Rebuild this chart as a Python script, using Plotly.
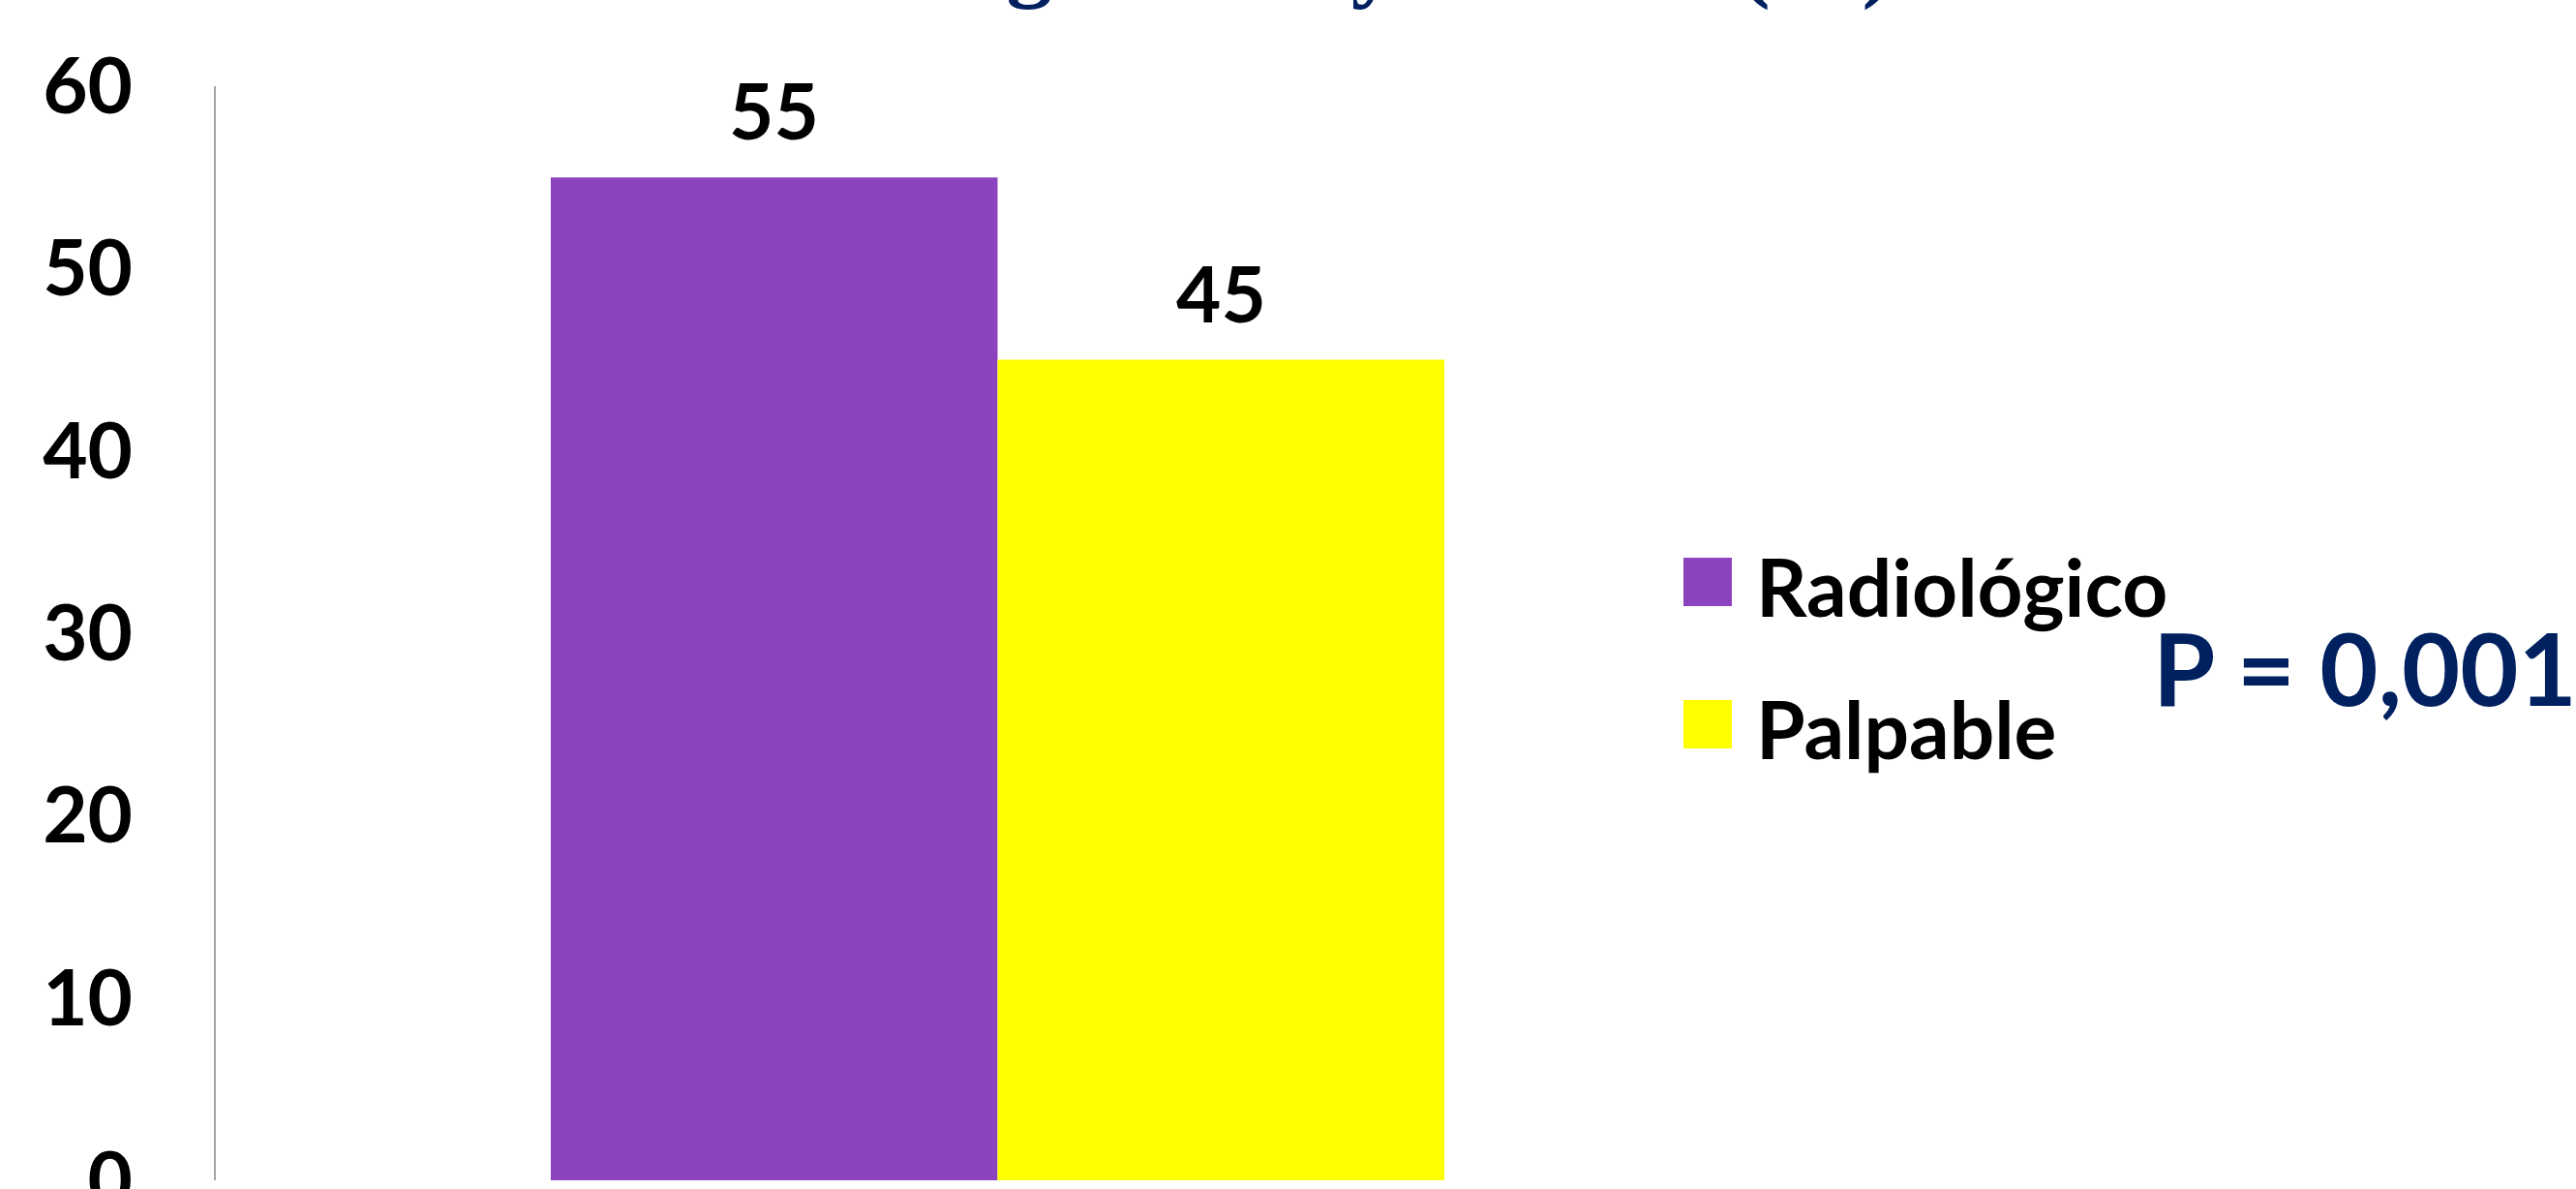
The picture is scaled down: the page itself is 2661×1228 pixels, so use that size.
import plotly.graph_objects as go

# ---- data ----
categories = ["Diagnóstico"]
series_names = ["Radiológico", "Palpable"]
radiologico = [55]
palpable = [45]
series_colors = ["#8B43BE", "#FFFF00"]
y_ticks = [0, 10, 20, 30, 40, 50, 60]
title_text = "Forma de diagnóstico y tamaño (%)"
p_text = "P = 0,001"

W, H = 2661, 1228
L, R, T, B = 223, 823, 89, 9
PW, PH = W - L - R, H - T - B

FONT = "Lato"
bar_w = 0.2858

fig = go.Figure()
values = [radiologico, palpable]
offsets = [-bar_w, 0.0]
for name, vals, col, off in zip(series_names, values, series_colors, offsets):
    fig.add_trace(go.Bar(
        x=categories, y=vals, name=name,
        marker=dict(color=col, line=dict(width=0)),
        width=bar_w, offset=off, showlegend=False,
    ))
    for v in vals:
        fig.add_annotation(x=off + bar_w / 2, y=v, xref="x", yref="y",
                           text=str(v), showarrow=False,
                           yanchor="bottom", yshift=20,
                           font=dict(family=FONT, size=80, color="black", weight="bold"))

# legend drawn manually (large squares)
def px_to_paper_x(px):
    return (px - L) / PW

def px_to_paper_y(py):
    return 1 - (py - T) / PH

leg_rows = [(576, 626), (723, 773)]
for (y0, y1), name, col in zip(leg_rows, series_names, series_colors):
    fig.add_shape(type="rect", xref="paper", yref="paper",
                  x0=px_to_paper_x(1739), x1=px_to_paper_x(1789),
                  y0=px_to_paper_y(y1), y1=px_to_paper_y(y0),
                  fillcolor=col, line=dict(width=0))
    fig.add_annotation(x=px_to_paper_x(1812), y=px_to_paper_y((y0 + y1) / 2 + 4),
                       xref="paper", yref="paper", xanchor="left", yanchor="middle",
                       text=name, showarrow=False,
                       font=dict(family=FONT, size=82, color="black", weight="bold"))

fig.add_annotation(x=px_to_paper_x(2222), y=px_to_paper_y(688),
                   xref="paper", yref="paper", xanchor="left", yanchor="middle",
                   text=p_text, showarrow=False,
                   font=dict(family=FONT, size=104, color="#002060", weight="bold"))

# title: mostly above the visible page, only descenders show
fig.add_annotation(x=px_to_paper_x(1225), y=px_to_paper_y(13),
                   xref="paper", yref="paper", xanchor="center", yanchor="bottom",
                   text=title_text, showarrow=False,
                   font=dict(family="Liberation Sans Narrow", size=95, color="#002060",
                             weight="bold"))

fig.update_layout(
    width=W, height=H,
    margin=dict(l=L, r=R, t=T, b=B, autoexpand=False),
    paper_bgcolor="white", plot_bgcolor="white",
    showlegend=False,
    font=dict(family=FONT, color="black"),
    xaxis=dict(range=[-0.5, 0.5], showticklabels=False, showgrid=False,
               zeroline=False, showline=False, ticks="", automargin=False),
    yaxis=dict(range=[0, 60], tickvals=y_ticks, showgrid=False, zeroline=False,
               showline=True, linecolor="#A6A6A6", linewidth=2, ticks="",
               ticklabelstandoff=68, ticklabeloverflow="allow", automargin=False,
               tickfont=dict(family=FONT, size=80, color="black", weight="bold")),
)

fig.write_html("out.html")
